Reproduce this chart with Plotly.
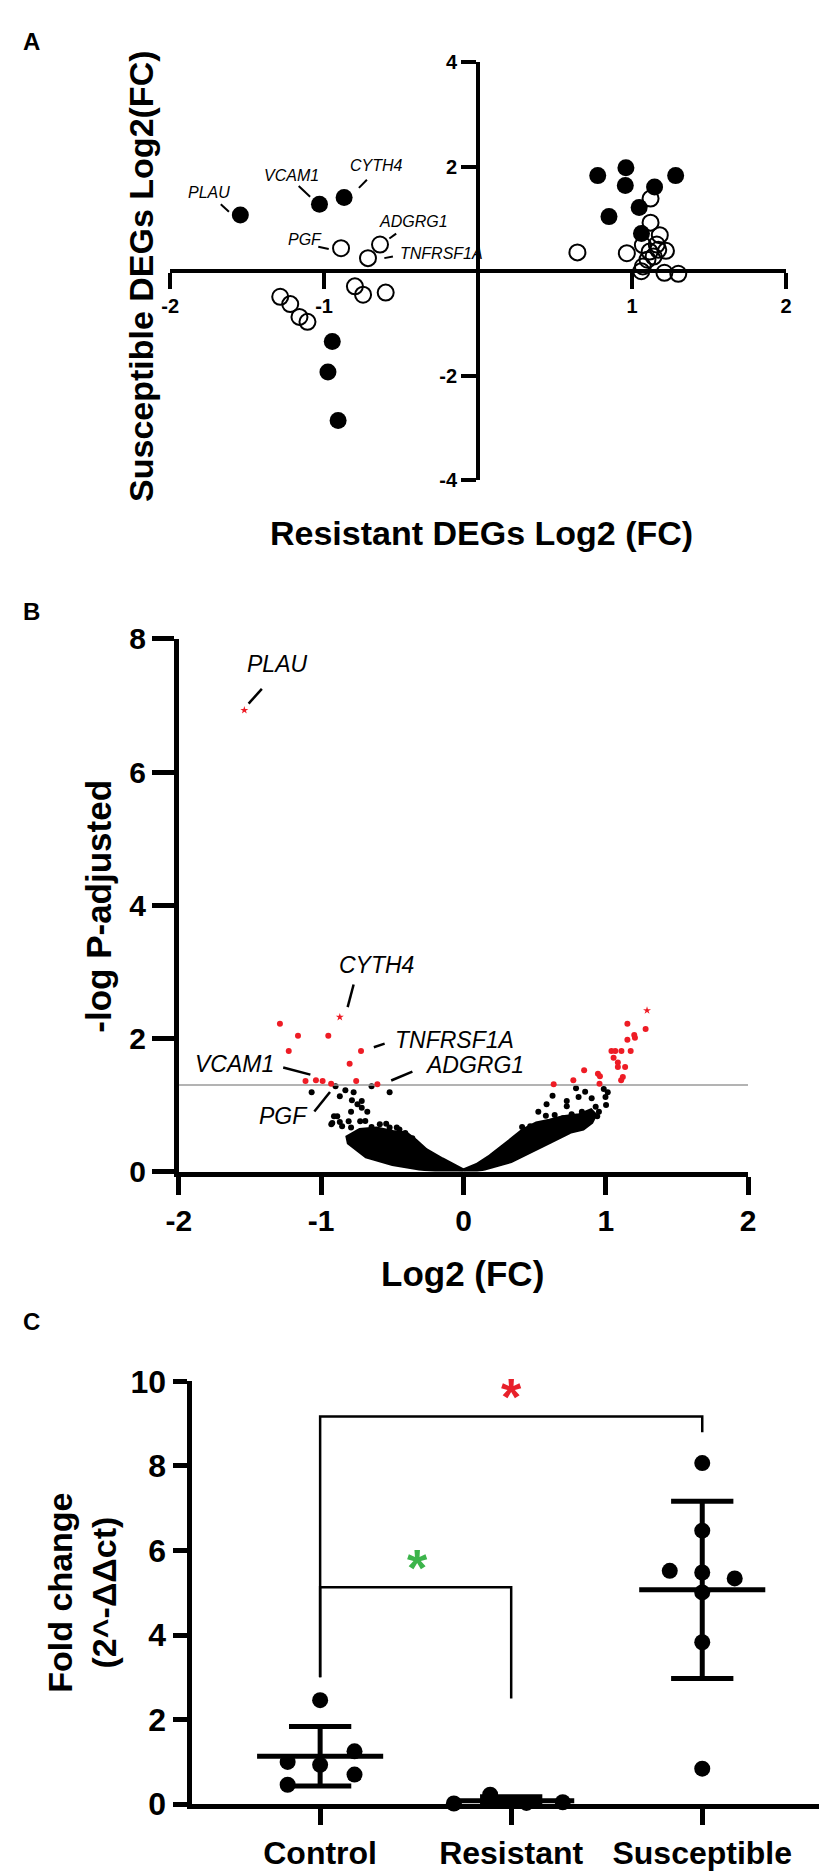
import numpy as np
import plotly.graph_objects as go

W, H = 827, 1874
FONT = "Liberation Sans, Arial, sans-serif"

# ---------------- Panel A data ----------------
a_filled_x = [-1.544, -1.03, -0.87, -0.947, -0.975, -0.909,
              0.777, 0.96, 0.956, 1.283, 1.146, 1.046, 0.85, 1.061]
a_filled_y = [1.075, 1.28, 1.41, -1.345, -1.93, -2.86,
              1.83, 1.98, 1.64, 1.83, 1.61, 1.22, 1.045, 0.72]
a_open_x = [-0.89, -0.637, -0.715, -1.285, -1.22, -1.16, -1.108, -0.80, -0.747, -0.60,
            0.645, 0.966, 1.12, 1.12, 1.18, 1.07, 1.16, 1.114, 1.17, 1.22, 1.10, 1.07,
            1.06, 1.21, 1.30, 1.14]
a_open_y = [0.44, 0.51, 0.25, -0.49, -0.63, -0.875, -0.97, -0.29, -0.45, -0.41,
            0.36, 0.345, 1.39, 0.93, 0.69, 0.50, 0.51, 0.375, 0.41, 0.39, 0.22, 0.09,
            0.0, -0.03, -0.05, 0.28]
a_xticks = [-2, -1, 1, 2]
a_yticks = [-4, -2, 2, 4]

# ---------------- Panel B data ----------------
b_red_x = [-1.29, -1.163, -0.95, -1.228, -0.72, -0.80, -1.11, -1.037, -0.99, -0.93,
           -0.754, -0.605,
           0.634, 0.772, 0.848, 0.945, 0.959, 0.956, 1.04, 1.067, 1.11, 1.175, 1.055,
           1.085, 1.085, 1.136, 1.12, 1.108, 1.152, 1.20, 1.205, 1.152, 1.28]
b_red_y = [2.22, 2.04, 2.04, 1.81, 1.81, 1.62, 1.36, 1.37, 1.36, 1.32,
           1.36, 1.31,
           1.31, 1.37, 1.52, 1.47, 1.43, 1.32, 1.81, 1.81, 1.81, 1.81, 1.71,
           1.64, 1.57, 1.57, 1.42, 1.37, 1.98, 2.05, 2.01, 2.22, 2.14]
b_star_x = [-1.54, -0.869, 1.29]
b_star_y = [6.93, 2.32, 2.42]
b_black_x = [-1.067, -0.899, -0.869, -0.83, -0.772, -0.646, -0.519, -0.784, -0.745,
             -0.715, -0.715, -0.676, -0.79, -0.887, -0.869, -0.922, -0.853, -0.79,
             -0.69, -0.646, -0.543, -0.469, -0.359, -0.409,
             -0.91, -0.929, -0.807, -0.726, -0.588, -0.519, -0.45,
             0.791, 0.809, 0.855, 0.901, 0.986, 1.014, 0.998, 1.002, 0.94, 0.726,
             0.626, 0.584, 0.726, 0.832, 0.526, 0.579, 0.641, 0.412, 0.469, 0.70,
             0.76, 0.86, 0.699, 0.768, 0.871, 0.952, 0.929]
b_black_y = [1.19, 1.28, 1.13, 1.22, 1.19, 1.28, 1.19, 1.07, 1.01,
             1.06, 0.96, 0.90, 0.90, 0.83, 0.745, 0.73, 0.68, 0.66,
             0.76, 0.67, 0.72, 0.66, 0.50, 0.58,
             0.83, 0.71, 0.755, 0.755, 0.71, 0.66, 0.63,
             1.25, 1.12, 1.20, 1.10, 1.24, 1.19, 1.12, 1.00, 0.83, 1.06,
             1.14, 1.01, 0.98, 0.90, 0.90, 0.84, 0.85, 0.67, 0.68, 0.80,
             0.86, 0.82, 0.78, 0.83, 0.79, 0.90, 0.975]
cloud_left_x = [0.0, -0.13, -0.31, -0.497, -0.68, -0.80, -0.807, -0.726, -0.612,
                -0.497, -0.405, -0.34, -0.267, -0.152, -0.06, 0.0]
cloud_left_y = [0.0, 0.03, 0.06, 0.128, 0.24, 0.44, 0.51, 0.61, 0.63,
                0.58, 0.56, 0.45, 0.31, 0.17, 0.07, 0.0]
cloud_right_x = [0.0, 0.101, 0.193, 0.285, 0.354, 0.423, 0.515, 0.607, 0.699, 0.814,
                 0.894, 0.917, 0.894, 0.837, 0.745, 0.607, 0.469, 0.331, 0.147, 0.0]
cloud_right_y = [0.0, 0.09, 0.22, 0.36, 0.49, 0.61, 0.71, 0.75, 0.80, 0.83,
                 0.90, 0.85, 0.75, 0.66, 0.61, 0.46, 0.31, 0.17, 0.06, 0.0]
b_threshold = 1.3
b_xticks = [-2, -1, 0, 1, 2]
b_yticks = [0, 2, 4, 6, 8]

# ---------------- Panel C data ----------------
groups = ["Control", "Resistant", "Susceptible"]
ctrl_vals = [2.46, 1.0, 0.93, 1.25, 0.70, 0.46]
ctrl_jit = [0.0, -0.17, 0.0, 0.18, 0.18, -0.17]
res_vals = [0.016, 0.225, 0.03, 0.046]
res_jit = [-0.30, -0.11, 0.08, 0.27]
sus_vals = [8.07, 6.47, 5.52, 5.48, 5.34, 5.01, 3.83, 0.84]
sus_jit = [0.0, 0.0, -0.17, 0.0, 0.17, 0.0, 0.0, 0.0]
c_yticks = [0, 2, 4, 6, 8, 10]
bracket_top = [9.17, 5.13]
bracket_left_end = [3.0, 3.0]
bracket_right_end = [8.8, 2.5]
bracket_pairs = [(0, 2), (0, 1)]
star_pos = [(1.0, 9.86, "#e8202a"), (0.51, 5.82, "#3cb44b")]


def X(px):
    return px / W


def Y(py):
    return 1 - py / H


fig = go.Figure()

# Panel A
fig.add_trace(go.Scatter(x=a_open_x, y=a_open_y, mode="markers", xaxis="x", yaxis="y",
                         marker=dict(symbol="circle-open", size=16, color="black",
                                     line=dict(width=2, color="black")),
                         cliponaxis=False, hoverinfo="skip"))
fig.add_trace(go.Scatter(x=a_filled_x, y=a_filled_y, mode="markers", xaxis="x", yaxis="y",
                         marker=dict(symbol="circle", size=17, color="black"),
                         cliponaxis=False, hoverinfo="skip"))

# Panel B
for cx, cy in [(cloud_left_x, cloud_left_y), (cloud_right_x, cloud_right_y)]:
    fig.add_trace(go.Scatter(x=cx, y=cy, mode="lines", fill="toself", fillcolor="black",
                             line=dict(color="black", width=6), xaxis="x2", yaxis="y2",
                             hoverinfo="skip"))
fig.add_trace(go.Scatter(x=b_black_x, y=b_black_y, mode="markers", xaxis="x2", yaxis="y2",
                         marker=dict(size=6, color="black"), hoverinfo="skip"))
fig.add_trace(go.Scatter(x=[-2, 2], y=[b_threshold, b_threshold], mode="lines",
                         xaxis="x2", yaxis="y2", line=dict(color="#9a9a9a", width=1.5),
                         hoverinfo="skip"))
fig.add_trace(go.Scatter(x=b_red_x, y=b_red_y, mode="markers", xaxis="x2", yaxis="y2",
                         marker=dict(size=6, color="#ee1c25"), hoverinfo="skip"))
fig.add_trace(go.Scatter(x=b_star_x, y=b_star_y, mode="markers", xaxis="x2", yaxis="y2",
                         marker=dict(size=6, color="#ee1c25", symbol="star"),
                         hoverinfo="skip"))

# Panel C
for gi, (vals, jit) in enumerate([(ctrl_vals, ctrl_jit), (res_vals, res_jit),
                                   (sus_vals, sus_jit)]):
    xs = [gi + j for j in jit]
    fig.add_trace(go.Scatter(x=xs, y=vals, mode="markers", xaxis="x3", yaxis="y3",
                             marker=dict(size=16, color="black"), cliponaxis=False,
                             hoverinfo="skip"))
    m = float(np.mean(vals))
    s = float(np.std(vals, ddof=1))
    fig.add_trace(go.Scatter(x=[gi - 0.33, gi + 0.33], y=[m, m], mode="lines",
                             xaxis="x3", yaxis="y3", line=dict(color="black", width=5),
                             cliponaxis=False, hoverinfo="skip"))
    fig.add_trace(go.Scatter(x=[gi, gi], y=[m - s, m + s], mode="lines",
                             xaxis="x3", yaxis="y3", line=dict(color="black", width=5),
                             cliponaxis=False, hoverinfo="skip"))
    for yy in (m - s, m + s):
        fig.add_trace(go.Scatter(x=[gi - 0.163, gi + 0.163], y=[yy, yy], mode="lines",
                                 xaxis="x3", yaxis="y3",
                                 line=dict(color="black", width=5),
                                 cliponaxis=False, hoverinfo="skip"))
for (g0, g1), top, le, re in zip(bracket_pairs, bracket_top, bracket_left_end,
                                 bracket_right_end):
    fig.add_trace(go.Scatter(x=[g0, g0, g1, g1], y=[le, top, top, re], mode="lines",
                             xaxis="x3", yaxis="y3", line=dict(color="black", width=2.5),
                             hoverinfo="skip"))

axis_common = dict(showgrid=False, zeroline=False, showline=True, linecolor="black",
                   ticks="outside", tickcolor="black")

fig.update_layout(
    width=W, height=H, margin=dict(l=0, r=0, t=0, b=0),
    paper_bgcolor="white", plot_bgcolor="white", showlegend=False,
    font=dict(family=FONT, color="black"),
    xaxis=dict(domain=[X(153), X(785)], range=[-2, 2], anchor="free", position=Y(250),
               linewidth=4, tickwidth=4, ticklen=16, tickvals=a_xticks,
               ticktext=[str(v) for v in a_xticks],
               tickfont=dict(size=20, family=FONT, weight="bold"), **axis_common),
    yaxis=dict(domain=[Y(463), Y(37)], range=[-4, 4], anchor="free", position=X(469),
               linewidth=4, tickwidth=4, ticklen=15, tickvals=a_yticks,
               ticktext=[str(v) for v in a_yticks],
               tickfont=dict(size=20, family=FONT, weight="bold"), **axis_common),
    xaxis2=dict(domain=[X(162), X(746)], range=[-2, 2], anchor="y2",
                linewidth=5, tickwidth=5, ticklen=18, tickvals=b_xticks,
                ticktext=[str(v) for v in b_xticks],
                tickfont=dict(size=30, family=FONT, weight="bold"), **axis_common),
    yaxis2=dict(domain=[Y(1168), Y(625)], range=[0, 8], anchor="x2",
                linewidth=5, tickwidth=5, ticklen=22, tickvals=b_yticks,
                ticktext=[str(v) for v in b_yticks],
                tickfont=dict(size=30, family=FONT, weight="bold"), **axis_common),
    xaxis3=dict(domain=[X(175), 1.0], range=[-0.673, 2.653], anchor="y3",
                linewidth=5, tickwidth=5, ticklen=16, tickvals=[0, 1, 2],
                ticktext=groups,
                tickfont=dict(size=32, family=FONT, weight="bold"), **axis_common),
    yaxis3=dict(domain=[Y(1813), Y(1382)], range=[0, 10], anchor="x3",
                linewidth=5, tickwidth=5, ticklen=14, tickvals=c_yticks,
                ticktext=[str(v) for v in c_yticks],
                tickfont=dict(size=32, family=FONT, weight="bold"), **axis_common),
)

ann = []


def ptxt(text, px, py, size, angle=0, bold=True):
    ann.append(dict(text=text, x=X(px), y=Y(py), xref="paper", yref="paper",
                    showarrow=False, textangle=angle, xanchor="center", yanchor="middle",
                    font=dict(size=size, family=FONT, color="black",
                              weight="bold" if bold else "normal")))


ptxt("A", 11, 16, 24)
ptxt("B", 11, 597, 24)
ptxt("C", 11, 1321, 24)
ptxt("Susceptible DEGs Log2(FC)", 123, 255, 34, angle=-90)
ptxt("Resistant DEGs Log2 (FC)", 472, 517, 34)
ptxt("-log P-adjusted", 80, 897, 35, angle=-90)
ptxt("Log2 (FC)", 453, 1272, 35)
ptxt("Fold change<br>(2^-ΔΔct)", 63, 1597, 34, angle=-90)

# gene labels: (text, text_x, text_y, xanchor, line_x0, line_y0, line_x1, line_y1)
a_labels = [
    ("PLAU", -1.747, 1.50, "center", -1.671, 1.281, -1.618, 1.139),
    ("VCAM1", -1.209, 1.839, "center", -1.165, 1.632, -1.091, 1.426),
    ("CYTH4", -0.658, 2.026, "center", -0.774, 1.595, -0.722, 1.750),
    ("ADGRG1", -0.418, 0.957, "center", -0.576, 0.625, -0.532, 0.719),
    ("TNFRSF1A", -0.519, 0.343, "left", -0.609, 0.25, -0.553, 0.281),
    ("PGF", -1.122, 0.60, "center", -1.038, 0.469, -0.970, 0.426),
]
b_labels = [
    ("PLAU", -1.310, 7.618, "center", -1.510, 7.029, -1.417, 7.25),
    ("CYTH4", -0.614, 3.103, "center", -0.814, 2.47, -0.772, 2.81),
    ("TNFRSF1A", -0.06, 1.97, "center", -0.63, 1.868, -0.554, 1.922),
    ("ADGRG1", 0.081, 1.60, "center", -0.508, 1.368, -0.359, 1.50),
    ("VCAM1", -1.609, 1.613, "center", -1.267, 1.563, -1.076, 1.456),
    ("PGF", -1.262, 0.828, "center", -1.048, 0.901, -0.938, 1.196),
]
shapes = []
for labels, xr, yr, fs, lw in [(a_labels, "x", "y", 16, 2), (b_labels, "x2", "y2", 23, 2.5)]:
    for t, tx, ty, xa, lx0, ly0, lx1, ly1 in labels:
        ann.append(dict(text="<i>" + t + "</i>", x=tx, y=ty, xref=xr, yref=yr,
                        showarrow=False, xanchor=xa, yanchor="middle",
                        font=dict(size=fs, family=FONT, color="black")))
        shapes.append(dict(type="line", xref=xr, yref=yr, x0=lx0, y0=ly0, x1=lx1, y1=ly1,
                           line=dict(color="black", width=lw)))

for sx, sy, col in star_pos:
    ann.append(dict(text="*", x=sx, y=sy, xref="x3", yref="y3", showarrow=False,
                    xanchor="center", yanchor="middle", yshift=-10,
                    font=dict(size=52, family=FONT, color=col, weight="bold")))

fig.update_layout(annotations=ann, shapes=shapes)
fig.write_html("out.html")
